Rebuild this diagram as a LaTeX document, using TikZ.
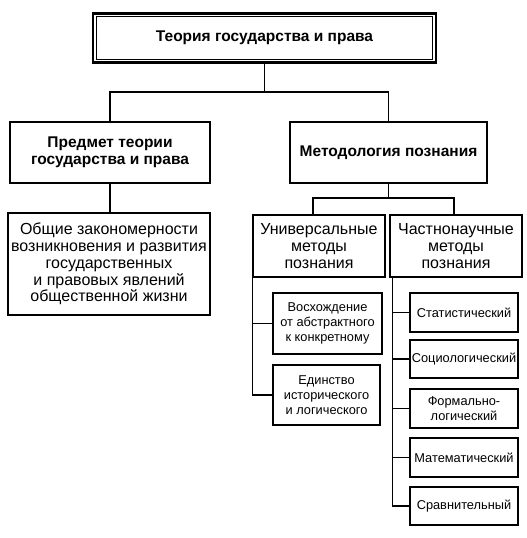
\documentclass[tikz,border=0pt]{standalone}
\usepackage{fontspec}
\setmainfont{Liberation Sans}
\begin{document}
\begin{tikzpicture}[x=1pt,y=-1pt,
  box/.style={draw, line width=1.3pt, inner sep=0pt, align=center},
  big/.style={font=\fontsize{16}{16.8}\selectfont},
  bigb/.style={font=\bfseries\fontsize{15.5}{17}\selectfont},
  small/.style={font=\fontsize{12.8}{15}\selectfont},
  wire/.style={line width=1.1pt}]
\useasboundingbox (0,0) rectangle (527,538);
\fill[white] (0,0) rectangle (527,538);
% top
\node[box, line width=2.4pt, minimum width=343pt, minimum height=49pt, bigb] (top) at (264.5,38) {Теория государства и права};
\draw[line width=1pt] ([xshift=4.5pt,yshift=-4.5pt]top.north west) rectangle ([xshift=-4.5pt,yshift=4.5pt]top.south east);
% level 2
\node[box, minimum width=200pt, minimum height=61pt, bigb] (pred) at (110,152.5) {Предмет теории\\государства и права};
\node[box, minimum width=197pt, minimum height=61pt, bigb] (met) at (388.5,152.5) {Методология познания};
\coordinate (j1) at (264.5,92);
\draw[wire] (top.south) -- (j1);
\draw[wire] (pred.north) |- (j1) -| (met.north);
% obshchie
\node[box, minimum width=202pt, minimum height=102pt, big] (obsh) at (109,264) {Общие закономерности\\возникновения и развития\\государственных\\и правовых явлений\\общественной жизни};
\draw[wire] (pred.south) -- (pred.south |- obsh.north);
% level 3
\node[box, minimum width=132pt, minimum height=62pt, big] (univ) at (319,246) {Универсальные\\методы\\познания};
\node[box, minimum width=132pt, minimum height=62pt, big] (chast) at (456,246) {Частнонаучные\\методы\\познания};
\coordinate (j2) at (388.5,198);
\draw[wire] (met.south) -- (j2);
\draw[wire] ([xshift=-6pt]univ.north) |- (j2) -| ([xshift=-2pt]chast.north);
% universal methods
\node[box, minimum width=109pt, minimum height=61pt, small] (vosk) at (327.5,323.5) {Восхождение\\от абстрактного\\к конкретному};
\node[box, minimum width=107pt, minimum height=60pt, small] (edin) at (326.5,395) {Единство\\исторического\\и логического};
\draw[wire] (univ.south west) |- (edin.west);
\draw[wire] (univ.south west |- vosk.west) -- (vosk.west);
% particular methods
\coordinate (cs) at ([xshift=3pt]chast.south west);
\node[box, minimum width=108pt, minimum height=39pt, small] (stat) at (464,312.5) {Статистический};
\node[box, minimum width=108pt, minimum height=38pt, small] (soc) at (464,359) {Социологический};
\node[box, minimum width=108pt, minimum height=39pt, small] (form) at (464,408.5) {Формально-\\логический};
\node[box, minimum width=108pt, minimum height=39pt, small] (mat) at (464,457.5) {Математический};
\node[box, minimum width=108pt, minimum height=38pt, small] (srav) at (464,506) {Сравнительный};
\draw[wire] (cs) |- (srav.west);
\foreach \n in {stat,soc,form,mat} \draw[wire] (cs |- \n.west) -- (\n.west);
\end{tikzpicture}
\end{document}
